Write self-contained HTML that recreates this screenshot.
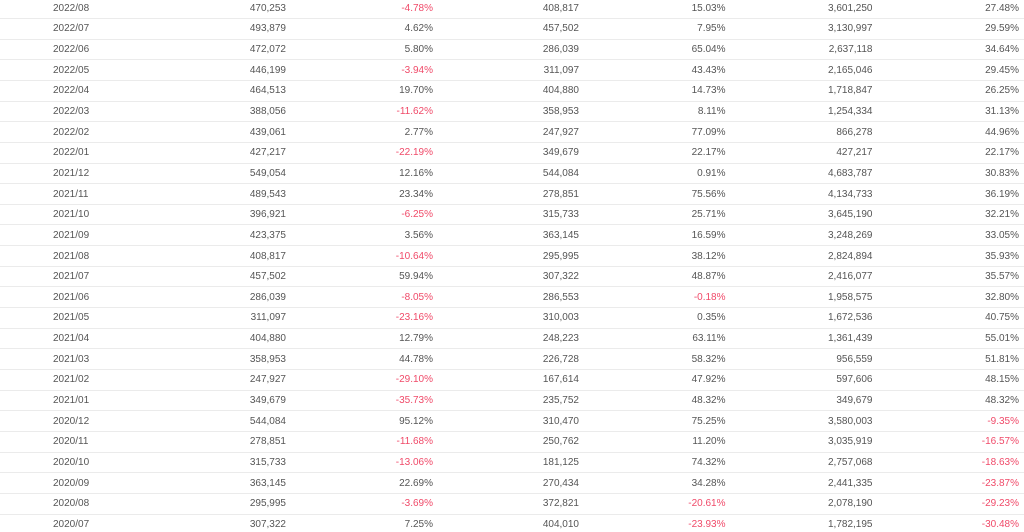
<!DOCTYPE html>
<html><head><meta charset="utf-8">
<style>
html,body{margin:0;padding:0;background:#fff;width:1024px;height:532px;overflow:hidden;}
body{position:relative;font-family:"Liberation Sans",Arial,sans-serif;font-size:10px;color:#555;}
.r{position:absolute;left:0;width:1024px;height:20.65px;box-sizing:border-box;border-bottom:1px solid #ebebeb;}
.r span{position:absolute;top:0.4px;line-height:20px;white-space:nowrap;}
.c1{left:53px;}
.c2{right:738px;}
.c3{right:591px;}
.c4{right:445px;}
.c5{right:298.5px;}
.c6{right:151.5px;}
.c7{right:5px;}
.n{color:#f04a69;}
</style></head><body>
<div class="r" style="top:-1.65px"><span class="c1">2022/08</span><span class="c2">470,253</span><span class="c3 n">-4.78%</span><span class="c4">408,817</span><span class="c5">15.03%</span><span class="c6">3,601,250</span><span class="c7">27.48%</span></div>
<div class="r" style="top:19.00px"><span class="c1">2022/07</span><span class="c2">493,879</span><span class="c3">4.62%</span><span class="c4">457,502</span><span class="c5">7.95%</span><span class="c6">3,130,997</span><span class="c7">29.59%</span></div>
<div class="r" style="top:39.65px"><span class="c1">2022/06</span><span class="c2">472,072</span><span class="c3">5.80%</span><span class="c4">286,039</span><span class="c5">65.04%</span><span class="c6">2,637,118</span><span class="c7">34.64%</span></div>
<div class="r" style="top:60.30px"><span class="c1">2022/05</span><span class="c2">446,199</span><span class="c3 n">-3.94%</span><span class="c4">311,097</span><span class="c5">43.43%</span><span class="c6">2,165,046</span><span class="c7">29.45%</span></div>
<div class="r" style="top:80.95px"><span class="c1">2022/04</span><span class="c2">464,513</span><span class="c3">19.70%</span><span class="c4">404,880</span><span class="c5">14.73%</span><span class="c6">1,718,847</span><span class="c7">26.25%</span></div>
<div class="r" style="top:101.60px"><span class="c1">2022/03</span><span class="c2">388,056</span><span class="c3 n">-11.62%</span><span class="c4">358,953</span><span class="c5">8.11%</span><span class="c6">1,254,334</span><span class="c7">31.13%</span></div>
<div class="r" style="top:122.25px"><span class="c1">2022/02</span><span class="c2">439,061</span><span class="c3">2.77%</span><span class="c4">247,927</span><span class="c5">77.09%</span><span class="c6">866,278</span><span class="c7">44.96%</span></div>
<div class="r" style="top:142.90px"><span class="c1">2022/01</span><span class="c2">427,217</span><span class="c3 n">-22.19%</span><span class="c4">349,679</span><span class="c5">22.17%</span><span class="c6">427,217</span><span class="c7">22.17%</span></div>
<div class="r" style="top:163.55px"><span class="c1">2021/12</span><span class="c2">549,054</span><span class="c3">12.16%</span><span class="c4">544,084</span><span class="c5">0.91%</span><span class="c6">4,683,787</span><span class="c7">30.83%</span></div>
<div class="r" style="top:184.20px"><span class="c1">2021/11</span><span class="c2">489,543</span><span class="c3">23.34%</span><span class="c4">278,851</span><span class="c5">75.56%</span><span class="c6">4,134,733</span><span class="c7">36.19%</span></div>
<div class="r" style="top:204.85px"><span class="c1">2021/10</span><span class="c2">396,921</span><span class="c3 n">-6.25%</span><span class="c4">315,733</span><span class="c5">25.71%</span><span class="c6">3,645,190</span><span class="c7">32.21%</span></div>
<div class="r" style="top:225.50px"><span class="c1">2021/09</span><span class="c2">423,375</span><span class="c3">3.56%</span><span class="c4">363,145</span><span class="c5">16.59%</span><span class="c6">3,248,269</span><span class="c7">33.05%</span></div>
<div class="r" style="top:246.15px"><span class="c1">2021/08</span><span class="c2">408,817</span><span class="c3 n">-10.64%</span><span class="c4">295,995</span><span class="c5">38.12%</span><span class="c6">2,824,894</span><span class="c7">35.93%</span></div>
<div class="r" style="top:266.80px"><span class="c1">2021/07</span><span class="c2">457,502</span><span class="c3">59.94%</span><span class="c4">307,322</span><span class="c5">48.87%</span><span class="c6">2,416,077</span><span class="c7">35.57%</span></div>
<div class="r" style="top:287.45px"><span class="c1">2021/06</span><span class="c2">286,039</span><span class="c3 n">-8.05%</span><span class="c4">286,553</span><span class="c5 n">-0.18%</span><span class="c6">1,958,575</span><span class="c7">32.80%</span></div>
<div class="r" style="top:308.10px"><span class="c1">2021/05</span><span class="c2">311,097</span><span class="c3 n">-23.16%</span><span class="c4">310,003</span><span class="c5">0.35%</span><span class="c6">1,672,536</span><span class="c7">40.75%</span></div>
<div class="r" style="top:328.75px"><span class="c1">2021/04</span><span class="c2">404,880</span><span class="c3">12.79%</span><span class="c4">248,223</span><span class="c5">63.11%</span><span class="c6">1,361,439</span><span class="c7">55.01%</span></div>
<div class="r" style="top:349.40px"><span class="c1">2021/03</span><span class="c2">358,953</span><span class="c3">44.78%</span><span class="c4">226,728</span><span class="c5">58.32%</span><span class="c6">956,559</span><span class="c7">51.81%</span></div>
<div class="r" style="top:370.05px"><span class="c1">2021/02</span><span class="c2">247,927</span><span class="c3 n">-29.10%</span><span class="c4">167,614</span><span class="c5">47.92%</span><span class="c6">597,606</span><span class="c7">48.15%</span></div>
<div class="r" style="top:390.70px"><span class="c1">2021/01</span><span class="c2">349,679</span><span class="c3 n">-35.73%</span><span class="c4">235,752</span><span class="c5">48.32%</span><span class="c6">349,679</span><span class="c7">48.32%</span></div>
<div class="r" style="top:411.35px"><span class="c1">2020/12</span><span class="c2">544,084</span><span class="c3">95.12%</span><span class="c4">310,470</span><span class="c5">75.25%</span><span class="c6">3,580,003</span><span class="c7 n">-9.35%</span></div>
<div class="r" style="top:432.00px"><span class="c1">2020/11</span><span class="c2">278,851</span><span class="c3 n">-11.68%</span><span class="c4">250,762</span><span class="c5">11.20%</span><span class="c6">3,035,919</span><span class="c7 n">-16.57%</span></div>
<div class="r" style="top:452.65px"><span class="c1">2020/10</span><span class="c2">315,733</span><span class="c3 n">-13.06%</span><span class="c4">181,125</span><span class="c5">74.32%</span><span class="c6">2,757,068</span><span class="c7 n">-18.63%</span></div>
<div class="r" style="top:473.30px"><span class="c1">2020/09</span><span class="c2">363,145</span><span class="c3">22.69%</span><span class="c4">270,434</span><span class="c5">34.28%</span><span class="c6">2,441,335</span><span class="c7 n">-23.87%</span></div>
<div class="r" style="top:493.95px"><span class="c1">2020/08</span><span class="c2">295,995</span><span class="c3 n">-3.69%</span><span class="c4">372,821</span><span class="c5 n">-20.61%</span><span class="c6">2,078,190</span><span class="c7 n">-29.23%</span></div>
<div class="r" style="top:514.60px"><span class="c1">2020/07</span><span class="c2">307,322</span><span class="c3">7.25%</span><span class="c4">404,010</span><span class="c5 n">-23.93%</span><span class="c6">1,782,195</span><span class="c7 n">-30.48%</span></div>
</body></html>
